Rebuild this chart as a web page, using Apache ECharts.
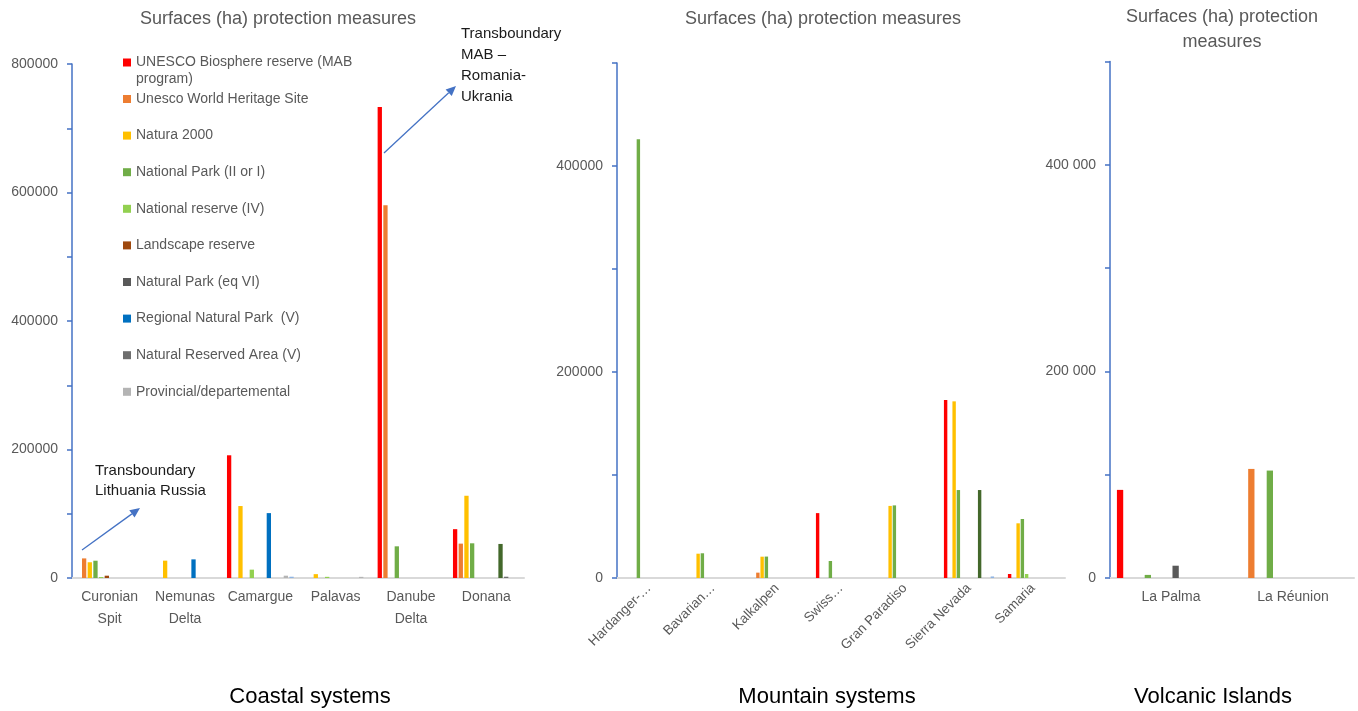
<!DOCTYPE html>
<html><head><meta charset="utf-8">
<script src="https://cdn.jsdelivr.net/npm/echarts@6/dist/echarts.min.js"></script>
<style>html,body{margin:0;padding:0;background:#fff}#c{width:1358px;height:711px}</style>
</head><body><div id="c"></div><script>
// ---------- DATA ----------
const seriesNames = [
  'UNESCO Biosphere reserve (MAB program)',
  'Unesco World Heritage Site',
  'Natura 2000',
  'National Park (II or I)',
  'National reserve (IV)',
  'Landscape reserve',
  'Natural Park (eq VI)',
  'Regional Natural Park  (V)',
  'Natural Park (regional)',
  'Natural Reserved Area (V)',
  'Provincial/departemental',
  'Other'
];
const legendNames = [0,1,2,3,4,5,6,7,9,10];

const coastalCategories = ['Curonian\nSpit','Nemunas\nDelta','Camargue','Palavas','Danube\nDelta','Donana'];
const mountainCategories = ['Hardanger-…','Bavarian…','Kalkalpen','Swiss…','Gran Paradiso','Sierra Nevada','Samaria'];
const volcanicCategories = ['La Palma','La Réunion'];

// rows follow seriesNames order
const coastalValues = [
  [null, null, 191000, null, 733000, 76000],
  [30500, null, null, null, 580000, 53500],
  [24500, 27000, 112000, 6000, null, 128000],
  [26900, null, null, null, 49300, 54000],
  [1500, null, 13000, 1800, null, null],
  [3600, null, null, null, null, null],
  [null, null, null, null, null, null],
  [null, 29000, 101000, null, null, null],
  [null, null, null, null, null, 53000],
  [null, null, null, null, null, 2000],
  [null, null, 3600, 1800, null, null],
  [null, null, 2000, null, null, null]
];
const mountainValues = [
  [null, null, null, 63000, null, 172800, 3900],
  [null, null, 5200, null, null, null, null],
  [null, 23600, 20700, null, 70000, 171500, 53100],
  [426000, 24000, 20800, 16500, 70500, 85400, 57300],
  [null, null, null, null, null, null, 3900],
  [null, null, null, null, null, null, null],
  [null, null, null, null, null, null, null],
  [null, null, null, null, null, null, null],
  [null, null, null, null, null, 85400, null],
  [null, null, null, null, null, null, null],
  [null, null, null, null, null, null, null],
  [null, null, null, null, null, 1500, null]
];
const volcanicValues = [
  [85300, null],
  [null, 105600],
  [null, null],
  [3000, 104000],
  [null, null],
  [null, null],
  [11900, null],
  [null, null],
  [null, null],
  [null, null],
  [null, null],
  [null, null]
];
const coastalTickLabels = [0, 200000, 400000, 600000, 800000];
const mountainTickLabels = [0, 200000, 400000];
const volcanicTickLabels = [0, 200000, 400000];

// ---------- STYLE ----------
const FONT = '"Liberation Sans", Arial, sans-serif';
const GREY = '#595959';
const seriesColors = ['#ff0000','#ed7d31','#ffc000','#70ad47','#92d050','#9e480e','#595959','#0070c0','#43682b','#6e6e6e','#b4b4b4','#8eb4e3'];

const chart = echarts.init(document.getElementById('c'), null, {renderer: 'canvas'});

function yAxis(gridIndex, max, labels, fmt) {
  return {
    type: 'value', gridIndex, min: 0, max, interval: 100000,
    axisLine: {show: true, lineStyle: {color: '#4472c4', width: 1.5}},
    axisTick: {show: true, length: 5, lineStyle: {color: '#4472c4', width: 1.5}},
    splitLine: {show: false},
    axisLabel: {
      margin: 14, color: GREY, fontFamily: FONT, fontSize: 14,
      formatter: v => labels.indexOf(v) >= 0 ? fmt(v) : ''
    }
  };
}
function xAxis(gridIndex, data, labelOpts) {
  return {
    type: 'category', gridIndex, data,
    axisLine: {show: true, lineStyle: {color: '#d9d9d9', width: 2}},
    axisTick: {show: false},
    axisLabel: Object.assign({interval: 0, color: GREY, fontFamily: FONT, fontSize: 14}, labelOpts)
  };
}

const series = [];
function addSeries(values, axisIndex, barWidth, barGap) {
  values.forEach((row, i) => {
    series.push({
      type: 'bar', name: seriesNames[i], data: row,
      xAxisIndex: axisIndex, yAxisIndex: axisIndex,
      barWidth, barGap,
      itemStyle: {color: seriesColors[i]},
      animation: false
    });
  });
}
addSeries(coastalValues, 0, 4.3, '32%');
addSeries(mountainValues, 1, 3.4, '25%');
addSeries(volcanicValues, 2, 6.3, '47%');

function arrow(x1, y1, x2, y2) {
  const ang = Math.atan2(y2 - y1, x2 - x1);
  const L = 10, W = 4.5;
  const bx = x2 - L * Math.cos(ang), by = y2 - L * Math.sin(ang);
  const px = -Math.sin(ang) * W, py = Math.cos(ang) * W;
  return [
    {type: 'line', shape: {x1, y1, x2: bx, y2: by}, style: {stroke: '#4472c4', lineWidth: 1.3}},
    {type: 'polygon', shape: {points: [[x2, y2], [bx + px, by + py], [bx - px, by - py]]}, style: {fill: '#4472c4'}}
  ];
}

const titleStyle = {color: GREY, fontFamily: FONT, fontSize: 18, fontWeight: 'normal', lineHeight: 25};
const captionStyle = {color: '#000', fontFamily: FONT, fontSize: 22, fontWeight: 'normal', lineHeight: 26};

chart.setOption({
  animation: false,
  title: [
    {text: 'Surfaces (ha) protection measures', left: 278, top: 7, padding: 0, textAlign: 'center', textStyle: titleStyle},
    {text: 'Surfaces (ha) protection measures', left: 823, top: 7, padding: 0, textAlign: 'center', textStyle: titleStyle},
    {text: 'Surfaces (ha) protection\nmeasures', left: 1222, top: 4.5, padding: 0, textAlign: 'center', textStyle: titleStyle},
    {text: 'Coastal systems', left: 310, top: 684, padding: 0, textAlign: 'center', textStyle: captionStyle},
    {text: 'Mountain systems', left: 827, top: 684, padding: 0, textAlign: 'center', textStyle: captionStyle},
    {text: 'Volcanic Islands', left: 1213, top: 684, padding: 0, textAlign: 'center', textStyle: captionStyle}
  ],
  legend: [
    {
      data: [seriesNames[0]], orient: 'vertical', left: 123, top: 37, padding: 0,
      icon: 'rect', itemWidth: 8, itemHeight: 8, selectedMode: false,
      formatter: () => '\nUNESCO Biosphere reserve (MAB\nprogram)',
      textStyle: {color: GREY, fontFamily: FONT, fontSize: 14, lineHeight: 17}
    },
    {
      data: legendNames.slice(1).map(i => seriesNames[i]), orient: 'vertical', left: 123, top: 90.5, padding: 0,
      icon: 'rect', itemWidth: 8, itemHeight: 8, itemGap: 19.6, selectedMode: false,
      textStyle: {color: GREY, fontFamily: FONT, fontSize: 14, lineHeight: 17}
    }
  ],
  grid: [
    {left: 72, top: 64, width: 452, height: 514},
    {left: 617, top: 63, width: 448, height: 515},
    {left: 1110, top: 61.5, width: 244, height: 516.5}
  ],
  xAxis: [
    xAxis(0, coastalCategories, {margin: 8, lineHeight: 22}),
    xAxis(1, mountainCategories, {margin: 8, rotate: 45, fontSize: 13.5}),
    xAxis(2, volcanicCategories, {margin: 12})
  ],
  yAxis: [
    yAxis(0, 800000, coastalTickLabels, v => String(v)),
    yAxis(1, 500000, mountainTickLabels, v => String(v)),
    yAxis(2, 500000, volcanicTickLabels, v => String(v).replace(/\B(?=(\d{3})+(?!\d))/g, ' '))
  ],
  series,
  graphic: [
    {type: 'text', x: 95, y: 461, style: {text: 'Transboundary\nLithuania Russia', font: '15px ' + FONT, fill: '#1a1a1a', lineHeight: 20}},
    {type: 'text', x: 461, y: 23.5, style: {text: 'Transboundary\nMAB –\nRomania-\nUkrania', font: '15px ' + FONT, fill: '#1a1a1a', lineHeight: 21}},
    ...arrow(82, 550, 140, 508),
    ...arrow(384, 153, 456, 86)
  ]
});
</script></body></html>
